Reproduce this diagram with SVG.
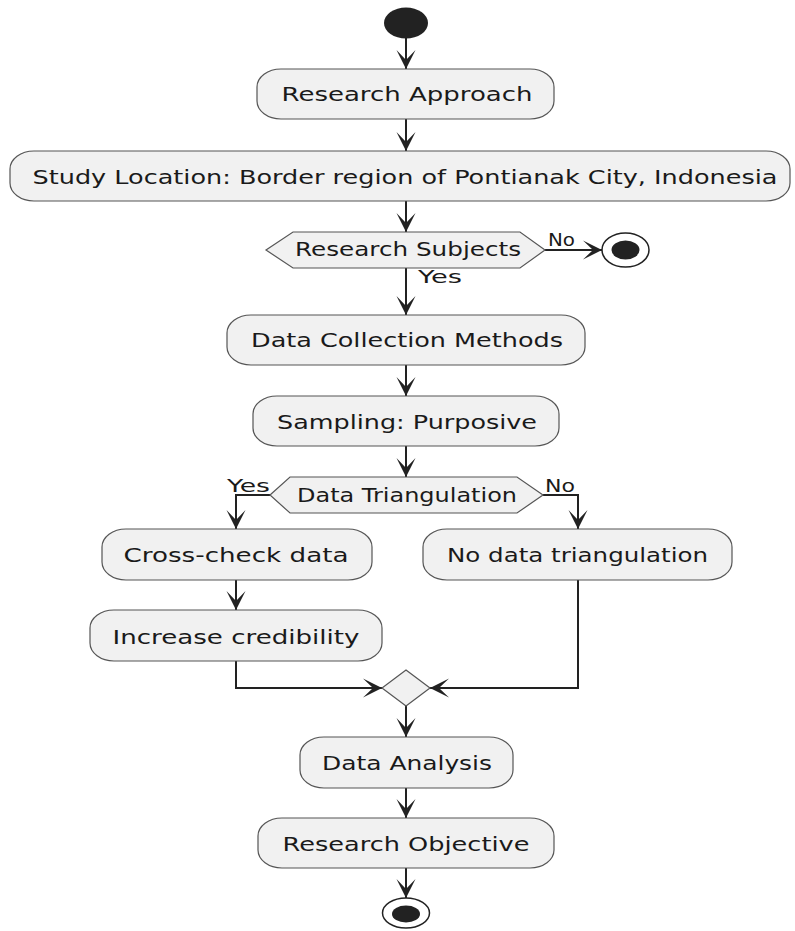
<svg xmlns="http://www.w3.org/2000/svg" width="795" height="931" viewBox="0 0 795 931">
<style>
.box{fill:#F1F1F1;stroke:#555555;stroke-width:1.2}
.t{font-family:"DejaVu Sans",sans-serif;font-size:19px;fill:#1a1a1a;text-anchor:middle}
.l{font-family:"DejaVu Sans",sans-serif;font-size:17px;fill:#1a1a1a}
.c{fill:none;stroke:#222222;stroke-width:2}
</style>
<defs>
<marker id="ah" markerWidth="24" markerHeight="24" viewBox="-21 -12 24 24" refX="0" refY="0" orient="auto" markerUnits="userSpaceOnUse">
<path d="M0,0 L-19,-9.5 L-9,0 L-19,9.5 Z" fill="#222222"/>
</marker>
</defs>
<rect width="795" height="931" fill="#FFFFFF"/>
<g id="connectors">
<line class="c" x1="406" y1="38" x2="406" y2="69" marker-end="url(#ah)"/>
<line class="c" x1="406" y1="119" x2="406" y2="151" marker-end="url(#ah)"/>
<line class="c" x1="406" y1="201" x2="406" y2="232" marker-end="url(#ah)"/>
<line class="c" x1="545" y1="250" x2="602" y2="250" marker-end="url(#ah)"/>
<line class="c" x1="406" y1="268" x2="406" y2="315" marker-end="url(#ah)"/>
<line class="c" x1="406" y1="365" x2="406" y2="396" marker-end="url(#ah)"/>
<line class="c" x1="406" y1="446" x2="406" y2="477" marker-end="url(#ah)"/>
<polyline class="c" points="270,495 236,495 236,529" marker-end="url(#ah)"/>
<polyline class="c" points="543,495 578,495 578,529" marker-end="url(#ah)"/>
<line class="c" x1="236" y1="580" x2="236" y2="610" marker-end="url(#ah)"/>
<polyline class="c" points="236,661 236,688 382,688" marker-end="url(#ah)"/>
<polyline class="c" points="578,580 578,688 430,688" marker-end="url(#ah)"/>
<line class="c" x1="406" y1="706" x2="406" y2="737" marker-end="url(#ah)"/>
<line class="c" x1="406" y1="788" x2="406" y2="818" marker-end="url(#ah)"/>
<line class="c" x1="406" y1="868" x2="406" y2="898" marker-end="url(#ah)"/>
<text class="l" x="548" y="246" textLength="27" lengthAdjust="spacingAndGlyphs">No</text>
<text class="l" x="418" y="283" textLength="44" lengthAdjust="spacingAndGlyphs">Yes</text>
<text class="l" x="227" y="492" textLength="43" lengthAdjust="spacingAndGlyphs">Yes</text>
<text class="l" x="545" y="492" textLength="30" lengthAdjust="spacingAndGlyphs">No</text>
</g>
<g id="start"><ellipse cx="406" cy="23" rx="22" ry="15.5" fill="#222222"/></g>
<g id="research-approach">
<rect class="box" x="257" y="69" width="297" height="50" rx="24" ry="18"/>
<text class="t" x="407" y="101" textLength="251" lengthAdjust="spacingAndGlyphs">Research Approach</text>
</g>
<g id="study-location">
<rect class="box" x="10" y="151" width="780" height="50" rx="24" ry="18"/>
<text class="t" x="405" y="184" textLength="745" lengthAdjust="spacingAndGlyphs">Study Location: Border region of Pontianak City, Indonesia</text>
</g>
<g id="research-subjects">
<polygon class="box" points="266,250 293,232 520,232 545,250 520,268 293,268"/>
<text class="t" x="408" y="256" textLength="226" lengthAdjust="spacingAndGlyphs">Research Subjects</text>
</g>
<g id="end-no">
<ellipse cx="625.5" cy="250" rx="23.5" ry="17" fill="#FFFFFF" stroke="#222222" stroke-width="1.5"/>
<ellipse cx="625.5" cy="250" rx="14" ry="9.5" fill="#222222"/>
</g>
<g id="data-collection">
<rect class="box" x="227" y="315" width="358" height="50" rx="24" ry="18"/>
<text class="t" x="407" y="347" textLength="312" lengthAdjust="spacingAndGlyphs">Data Collection Methods</text>
</g>
<g id="sampling">
<rect class="box" x="253" y="396" width="306" height="50" rx="24" ry="18"/>
<text class="t" x="407" y="429" textLength="260" lengthAdjust="spacingAndGlyphs">Sampling: Purposive</text>
</g>
<g id="data-triangulation">
<polygon class="box" points="270,495 290,477 517,477 543,495 517,513 290,513"/>
<text class="t" x="407" y="502" textLength="220" lengthAdjust="spacingAndGlyphs">Data Triangulation</text>
</g>
<g id="cross-check">
<rect class="box" x="102" y="529" width="270" height="51" rx="24" ry="18"/>
<text class="t" x="236" y="562" textLength="225" lengthAdjust="spacingAndGlyphs">Cross-check data</text>
</g>
<g id="no-triangulation">
<rect class="box" x="423" y="529" width="309" height="51" rx="24" ry="18"/>
<text class="t" x="577.5" y="562" textLength="261" lengthAdjust="spacingAndGlyphs">No data triangulation</text>
</g>
<g id="increase-credibility">
<rect class="box" x="90" y="610" width="292" height="51" rx="24" ry="18"/>
<text class="t" x="236" y="644" textLength="247" lengthAdjust="spacingAndGlyphs">Increase credibility</text>
</g>
<g id="merge">
<polygon class="box" points="406,670 430,688 406,706 382,688"/>
</g>
<g id="data-analysis">
<rect class="box" x="300" y="737" width="213" height="51" rx="24" ry="18"/>
<text class="t" x="407" y="770" textLength="170" lengthAdjust="spacingAndGlyphs">Data Analysis</text>
</g>
<g id="research-objective">
<rect class="box" x="258" y="818" width="296" height="50" rx="24" ry="18"/>
<text class="t" x="406" y="851" textLength="247" lengthAdjust="spacingAndGlyphs">Research Objective</text>
</g>
<g id="end">
<ellipse cx="406" cy="913" rx="23.5" ry="15" fill="#FFFFFF" stroke="#222222" stroke-width="1.5"/>
<ellipse cx="406" cy="914" rx="14" ry="8.5" fill="#222222"/>
</g>
</svg>
